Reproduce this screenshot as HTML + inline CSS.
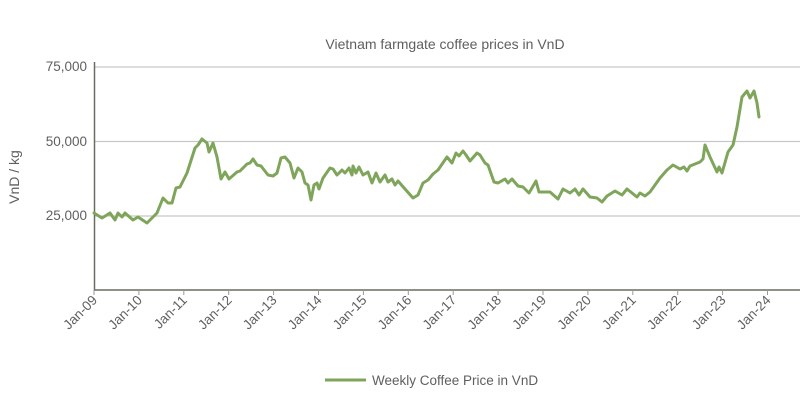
<!DOCTYPE html>
<html><head><meta charset="utf-8"><style>body{margin:0;background:#fff}svg{display:block}text{font-family:"Liberation Sans",sans-serif;fill:#5f5f5f}</style></head>
<body>
<svg width="800" height="403" viewBox="0 0 800 403">
<text x="445" y="49" font-size="14" text-anchor="middle">Vietnam farmgate coffee prices in VnD</text>
<g stroke="#c8c8c8" stroke-width="1.3">
<line x1="94" y1="67" x2="800" y2="67"/><line x1="94" y1="141.5" x2="800" y2="141.5"/><line x1="94" y1="216" x2="800" y2="216"/>
</g>
<g stroke="#6b6b5e" stroke-width="1.5">
<line x1="94.5" y1="62" x2="94.5" y2="290"/><line x1="94" y1="290" x2="800" y2="290"/>
</g>
<g font-size="13.5" text-anchor="end">
<text x="87" y="71">75,000</text><text x="87" y="146">50,000</text><text x="87" y="220">25,000</text>
</g>
<text transform="translate(19,177) rotate(-90)" font-size="14" text-anchor="middle">VnD / kg</text>
<g id="ticks" stroke="#999" stroke-width="1"></g>
<g id="xl" font-size="13.5" text-anchor="end"></g>
<polyline fill="none" stroke="#7ea55a" stroke-width="3" stroke-linejoin="round" stroke-linecap="round" points="94,213 102,218 110,213 115,220 118,213 122,217 125,213 133,220 138,217 147,223 153,217 157,213 163,198 168,203 172,203 176,188 180,187 187,173 195,148 198,145 202,139 207,143 209,152 213,143 217,157 221,179 225,172 229,179 237,172 240,171 247,164 250,163 253,159 257,165 261,166 268,175 273,176 277,173 281,158 285,157 290,163 294,178 298,168 302,172 305,183 308,185 311,200 314,185 317,183 319,189 323,178 330,168 333,169 337,175 342,170 345,173 349,168 352,175 353,166 356,173 359,167 363,175 368,172 372,183 376,173 380,182 385,175 388,182 392,179 395,185 398,181 405,189 413,198 418,195 423,183 428,180 433,174 438,170 447,157 452,163 456,153 459,156 463,151 466,155 470,161 477,153 480,155 485,163 488,165 494,182 498,183 505,179 508,183 512,179 518,186 523,187 529,193 536,181 539,192 550,192 558,199 563,189 570,193 575,189 579,195 583,189 590,197 597,198 602,202 607,196 615,191 622,195 627,189 637,197 640,193 645,196 650,192 660,178 667,170 673,165 680,169 684,167 687,171 690,166 700,162 703,159 705,145 710,157 717,172 719,167 722,173 728,152 733,145 737,127 742,97 747,91 750,98 754,91 757,103 759,117"/>
<line x1="325" y1="380" x2="366" y2="380" stroke="#7ea55a" stroke-width="3"/>
<text x="372" y="385" font-size="13.5">Weekly Coffee Price in VnD</text>
<script>
var t=document.getElementById('ticks'),l=document.getElementById('xl'),ns="http://www.w3.org/2000/svg";
for(var i=0;i<=15;i++){var x=94+44.9*i;
var ln=document.createElementNS(ns,'line');ln.setAttribute('x1',x);ln.setAttribute('x2',x);ln.setAttribute('y1',290);ln.setAttribute('y2',295);t.appendChild(ln);
var tx=document.createElementNS(ns,'text');var yy=(9+i)%100;tx.textContent='Jan-'+(yy<10?'0'+yy:yy);
tx.setAttribute('transform','translate('+(x+4)+',301) rotate(-45)');l.appendChild(tx);}
</script>
</svg>
</body></html>
